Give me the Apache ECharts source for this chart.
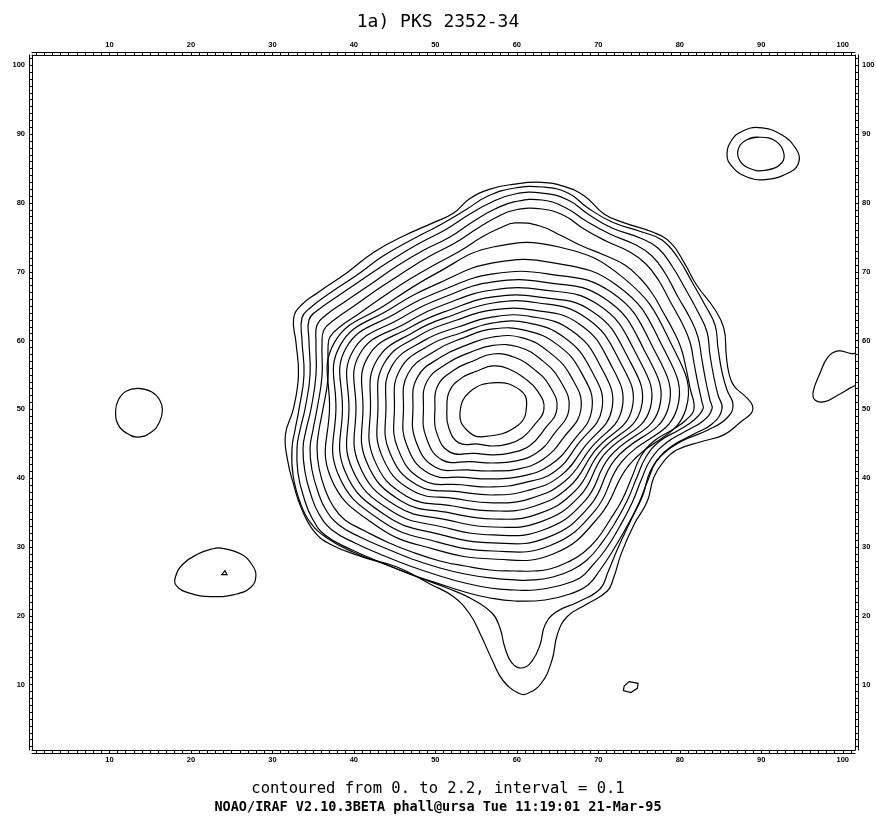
<!DOCTYPE html>
<html>
<head>
<meta charset="utf-8">
<script src="https://cdn.jsdelivr.net/npm/echarts@6/dist/echarts.min.js"></script>
<style>
  html, body { margin: 0; padding: 0; background: #fff; }
  #chart { width: 876px; height: 818px; }
</style>
</head>
<body>
<div id="chart"></div>
<script>
// contour levels of the main source, 0.1 (outermost) to 2.2 (innermost), image pixel coords
const lvl01 = [[59.5,82.7],[63.0,83.0],[65.8,82.4],[68.3,81.0],[70.7,78.4],[73.2,77.1],[76.8,75.7],[78.9,74.2],[80.5,71.4],[82.1,68.0],[84.2,64.7],[85.4,61.8],[85.7,57.9],[86.0,55.4],[86.6,53.5],[88.2,51.7],[88.9,50.6],[88.8,49.5],[87.5,48.2],[85.4,46.3],[82.6,45.3],[79.6,44.1],[78.0,42.4],[76.8,40.1],[76.0,36.6],[74.4,33.3],[72.8,29.0],[71.9,25.6],[71.1,23.6],[68.6,21.7],[66.2,19.9],[65.0,17.4],[64.3,13.5],[63.0,10.2],[61.3,8.7],[60.3,8.7],[58.3,10.6],[57.0,13.5],[55.5,17.4],[54.2,20.3],[52.2,22.8],[49.4,24.6],[45.3,27.1],[41.2,28.5],[37.1,30.4],[35.1,32.3],[33.5,35.8],[32.6,39.1],[31.9,42.4],[31.6,46.3],[32.6,50.2],[33.2,55.0],[32.9,59.7],[32.6,63.2],[33.5,65.1],[35.6,67.0],[39.2,69.9],[42.4,72.8],[46.1,75.2],[49.7,77.1],[52.2,78.5],[54.2,80.6],[56.7,82.0]];
const lvl02 = [[59.77,82.17],[63.09,82.32],[66.28,81.45],[68.73,79.27],[71.68,77.23],[75.36,75.78],[77.81,74.61],[79.78,72.0],[81.5,68.51],[83.09,65.17],[84.32,62.26],[84.69,58.92],[85.18,55.43],[85.79,52.82],[86.53,50.64],[85.79,48.75],[83.46,47.0],[80.27,45.41],[77.94,43.52],[76.34,40.9],[75.48,37.56],[74.13,34.22],[72.41,29.86],[71.19,26.37],[70.21,23.9],[67.51,22.01],[64.81,20.55],[63.46,18.67],[62.84,15.76],[61.86,13.43],[60.63,12.42],[59.41,13.14],[58.55,15.32],[57.93,18.23],[56.95,20.41],[54.25,22.59],[51.43,24.04],[48.12,25.5],[44.07,27.38],[39.89,29.27],[36.7,31.31],[34.62,33.63],[33.39,36.54],[32.53,40.46],[32.41,44.39],[32.78,47.0],[33.27,50.05],[33.88,55.0],[33.63,60.08],[33.63,63.28],[34.62,64.73],[37.07,66.91],[40.38,69.53],[43.58,72.29],[47.26,74.76],[50.57,76.8],[53.88,79.12],[56.46,81.01]];
const lvl03 = [[59.77,81.3],[63.09,81.44],[66.28,80.43],[68.73,78.39],[71.68,76.36],[75.11,74.91],[77.32,73.45],[79.04,70.84],[80.76,67.35],[82.23,64.15],[83.34,61.25],[83.7,57.9],[84.2,54.56],[84.69,52.09],[85.18,50.06],[83.95,47.87],[81.74,46.42],[79.04,44.68],[77.08,42.35],[76.1,39.74],[74.87,36.1],[73.4,32.76],[71.68,29.27],[70.21,26.66],[68.73,24.48],[66.52,23.17],[63.46,22.3],[59.77,22.15],[56.7,22.59],[53.64,23.46],[50.56,24.62],[46.88,26.08],[43.21,27.82],[39.53,29.71],[36.46,31.74],[34.86,34.22],[33.88,37.12],[33.14,40.75],[33.02,44.39],[33.39,47.0],[34.0,50.05],[34.62,55.0],[34.49,60.08],[34.49,62.99],[35.6,64.44],[38.05,66.48],[41.12,68.95],[44.43,71.56],[47.87,74.03],[51.18,76.07],[54.24,78.39],[56.95,80.14]];
const lvl04 = [[59.77,80.18],[63.09,80.43],[66.03,79.27],[68.49,77.38],[71.42,75.49],[74.62,73.89],[76.59,72.29],[78.18,69.82],[79.78,66.33],[81.25,63.28],[82.23,60.52],[82.72,57.18],[83.21,53.98],[83.7,51.36],[83.95,50.06],[82.85,48.31],[80.76,46.86],[78.31,45.11],[76.46,42.79],[75.36,40.03],[74.13,36.39],[72.66,33.05],[70.94,29.71],[69.22,27.24],[67.74,25.5],[65.05,24.33],[62.23,23.75],[59.77,23.75],[56.7,24.04],[53.63,24.77],[50.56,25.79],[46.88,27.24],[43.45,28.84],[40.14,30.58],[37.32,32.47],[35.72,34.8],[34.74,37.56],[34.0,40.9],[33.76,44.39],[34.13,47.0],[34.74,50.06],[35.35,55.0],[35.35,59.79],[35.48,62.26],[36.58,63.72],[39.03,65.75],[42.1,68.22],[45.29,70.84],[48.61,73.16],[51.79,75.05],[54.74,77.38],[57.31,79.12]];
const lvl05 = [[59.77,78.97],[63.09,79.12],[65.9,78.1],[68.24,76.21],[70.94,74.47],[73.88,72.87],[75.85,71.13],[77.45,68.66],[78.92,65.46],[80.27,62.55],[81.25,59.79],[81.74,56.74],[82.23,53.69],[82.72,51.07],[82.85,50.06],[81.74,48.46],[79.9,47.0],[77.56,45.41],[75.85,43.08],[74.75,40.17],[73.52,36.68],[72.04,33.49],[70.33,30.44],[68.61,28.11],[66.77,26.66],[64.44,25.64],[61.98,25.21],[59.77,25.21],[56.7,25.5],[53.63,26.08],[50.56,26.95],[47.13,28.26],[43.81,29.86],[40.75,31.45],[38.17,33.2],[36.58,35.38],[35.6,37.99],[34.86,41.19],[34.62,44.39],[34.98,47.0],[35.48,50.06],[36.09,54.85],[36.09,59.5],[36.33,61.54],[37.56,62.99],[40.01,65.02],[42.96,67.49],[46.15,69.96],[49.33,72.29],[52.4,74.18],[55.24,76.36],[57.57,77.96]];
const lvl06 = [[59.77,77.09],[62.83,76.65],[65.54,75.2],[68.0,73.74],[70.7,72.43],[73.26,70.98],[75.1,69.09],[76.59,66.91],[77.94,64.15],[79.16,61.54],[80.15,58.92],[80.76,56.01],[81.25,53.11],[81.74,50.06],[80.76,48.46],[79.04,47.0],[76.83,45.41],[75.24,43.22],[74.13,40.17],[72.91,36.83],[71.42,33.93],[69.84,31.16],[68.12,29.13],[66.28,27.82],[64.06,26.8],[61.98,26.51],[59.77,26.51],[56.7,26.66],[53.63,27.24],[50.56,27.97],[47.13,29.27],[44.07,30.73],[41.36,32.33],[38.91,33.93],[37.44,35.96],[36.45,38.43],[35.72,41.48],[35.48,44.39],[35.72,47.0],[36.21,50.06],[36.83,54.56],[36.83,58.92],[37.07,60.52],[38.42,62.12],[40.75,64.01],[43.7,66.48],[46.88,68.95],[50.08,71.13],[53.02,73.02],[55.72,75.05],[57.92,76.36]];
const lvl07 = [[80.75,50.06],[78.5,60.58],[73.12,69.07],[65.3,73.56],[57.07,73.6],[50.16,69.8],[44.14,65.37],[37.57,59.63],[37.01,50.06],[37.11,40.26],[42.75,33.1],[49.93,29.65],[57.07,28.26],[64.45,28.98],[70.17,34.54],[73.74,41.88]];
const lvl08 = [[79.65,50.06],[77.48,60.08],[72.26,68.04],[64.5,71.28],[57.07,71.28],[50.63,68.46],[44.66,64.75],[38.3,59.27],[37.8,50.06],[38.02,40.71],[43.36,33.82],[50.3,30.72],[57.07,29.42],[64.03,30.19],[69.57,35.26],[72.83,42.32]];
const lvl09 = [[78.55,50.06],[76.46,59.58],[71.48,67.12],[63.93,69.66],[57.07,69.68],[51.01,67.38],[45.27,64.04],[39.04,58.91],[38.6,50.06],[38.87,41.13],[43.97,34.54],[50.68,31.8],[57.07,30.59],[63.63,31.33],[68.96,35.98],[72.04,42.71]];
const lvl10 = [[77.44,50.06],[75.44,59.08],[70.69,66.19],[63.51,68.46],[57.07,68.52],[51.34,66.44],[45.88,63.32],[39.89,58.49],[39.4,50.06],[39.72,41.54],[44.57,35.26],[51.05,32.87],[57.07,31.75],[63.23,32.47],[68.35,36.7],[71.36,43.05]];
const lvl11 = [[76.34,50.06],[74.42,58.58],[69.91,65.27],[63.13,67.38],[57.07,67.35],[51.66,65.5],[46.48,62.6],[40.74,58.08],[40.26,50.06],[40.63,41.99],[45.18,35.98],[51.43,33.95],[57.07,32.91],[62.83,33.61],[67.74,37.42],[70.68,43.38]];
const lvl12 = [[75.23,50.06],[73.4,58.08],[69.13,64.34],[62.76,66.31],[57.07,66.34],[51.99,64.56],[47.0,61.98],[41.71,57.6],[41.12,50.06],[41.54,42.43],[45.79,36.7],[51.78,34.95],[57.07,34.07],[62.43,34.75],[67.14,38.14],[70.11,43.66]];
const lvl13 = [[74.13,50.06],[72.38,57.57],[68.35,63.42],[62.48,65.5],[57.07,65.46],[52.28,63.76],[47.52,61.36],[42.78,57.07],[42.04,50.06],[42.44,42.88],[46.4,37.42],[52.13,35.96],[57.07,35.24],[62.03,35.89],[66.53,38.86],[69.54,43.94]];
const lvl14 = [[72.9,50.06],[71.3,57.05],[67.57,62.49],[62.1,64.43],[57.07,64.45],[52.56,62.95],[48.04,60.75],[43.69,56.63],[42.96,50.06],[43.41,43.35],[47.09,38.24],[52.51,37.03],[57.07,36.4],[61.63,37.03],[65.92,39.58],[68.98,44.22]];
const lvl15 = [[71.67,50.06],[70.17,56.49],[66.7,61.47],[61.77,63.49],[57.07,63.43],[52.89,62.01],[48.65,60.03],[44.6,56.18],[43.94,50.06],[44.37,43.83],[47.74,39.01],[52.86,38.04],[57.07,37.56],[61.23,38.18],[65.31,40.3],[68.3,44.55]];
const lvl16 = [[70.45,50.06],[69.03,55.93],[65.83,60.44],[61.44,62.55],[57.07,62.56],[53.19,61.14],[49.26,59.31],[45.62,55.68],[44.98,50.06],[45.39,44.33],[48.39,39.78],[53.22,39.05],[57.07,38.73],[60.83,39.32],[64.71,41.02],[67.5,44.94]];
const lvl17 = [[69.22,50.06],[67.9,55.38],[64.97,59.41],[61.07,61.47],[57.07,61.69],[53.45,60.4],[49.95,58.49],[46.64,55.18],[46.09,50.06],[46.47,44.86],[49.17,40.71],[53.59,40.12],[57.07,39.89],[60.5,40.26],[64.01,41.84],[66.82,45.27]];
const lvl18 = [[67.87,50.06],[66.65,54.76],[64.01,58.28],[60.69,60.4],[57.07,60.52],[53.83,59.33],[50.69,57.61],[47.77,54.62],[47.25,50.06],[47.6,45.41],[49.95,41.63],[53.97,41.2],[57.07,41.05],[60.13,41.33],[63.23,42.76],[65.69,45.83]];
const lvl19 = [[66.4,50.06],[65.35,54.12],[63.06,57.15],[60.22,59.06],[57.07,59.29],[54.2,58.25],[51.47,56.69],[48.96,54.04],[48.54,50.06],[48.85,46.02],[50.82,42.66],[54.39,42.41],[57.07,42.21],[59.73,42.47],[62.45,43.69],[64.55,46.39]];
const lvl20 = [[64.92,50.06],[63.99,53.46],[62.02,55.92],[59.7,57.58],[57.07,58.05],[54.63,57.04],[52.3,55.71],[50.27,53.4],[49.95,50.06],[50.15,46.66],[51.78,43.79],[54.81,43.61],[57.07,43.38],[59.3,43.68],[61.58,44.72],[63.31,47.0]];
const lvl21 = [[63.33,50.06],[62.51,52.73],[60.89,54.58],[59.09,55.83],[57.07,56.31],[55.14,55.57],[53.25,54.58],[51.74,52.68],[51.42,50.06],[51.63,47.39],[52.9,45.13],[55.28,44.96],[57.07,44.68],[58.86,44.96],[60.63,45.85],[62.06,47.61]];
const lvl22 = [[57.53,53.88],[60.39,52.82],[61.21,50.88],[60.18,47.73],[55.88,46.03],[53.85,47.0],[53.02,49.43],[54.24,52.57]];

// small isolated contours
const westBlob = [[13.53,53.06],[15.16,52.57],[16.17,51.37],[16.5,49.92],[16.17,48.23],[15.16,46.7],[13.53,45.98],[12.1,46.55],[11.09,47.75],[10.76,49.67],[11.09,51.37],[12.1,52.67]];
const swBlob = [[23.7,29.84],[26.15,28.97],[27.58,27.28],[27.98,25.83],[27.37,24.16],[25.33,23.09],[22.49,22.8],[19.83,23.29],[18.21,24.39],[18.09,25.6],[19.03,27.53],[20.86,28.97],[22.49,29.69]];
const swPeak = [[24.19,26.56],[24.44,25.98],[23.79,25.98]];
const neOuter = [[89.66,90.96],[92.5,89.9],[94.33,87.73],[94.63,86.04],[93.72,84.6],[90.47,83.4],[88.03,83.88],[86.4,85.32],[85.79,87.01],[86.4,89.18],[87.62,90.38]];
const neInner = [[89.86,89.55],[91.69,89.03],[92.71,87.49],[92.5,85.8],[90.47,84.74],[88.44,85.07],[87.3,86.28],[87.21,87.96],[88.23,89.18]];
const eastEdge = [[101.8,58.2],[101.05,58.11],[99.43,58.49],[98.2,57.62],[97.19,55.22],[96.37,52.57],[96.58,51.37],[97.8,51.12],[99.43,52.09],[101.05,53.2],[101.8,53.6]];
const southSpot = [[73.78,10.43],[74.88,10.19],[74.79,9.46],[73.99,8.84],[73.08,9.13],[73.17,9.8]];

const mainLevels = [lvl01, lvl02, lvl03, lvl04, lvl05, lvl06, lvl07, lvl08, lvl09, lvl10, lvl11,
    lvl12, lvl13, lvl14, lvl15, lvl16, lvl17, lvl18, lvl19, lvl20, lvl21, lvl22];
const islands = [westBlob, swBlob, neOuter, neInner];

const tickValues = [];
for (let i = 1; i <= 101; i++) tickValues.push(i);
const labelValues = [10, 20, 30, 40, 50, 60, 70, 80, 90, 100];

const title = '1a) PKS 2352-34';
const note1 = 'contoured from 0. to 2.2, interval = 0.1';
const note2 = 'NOAO/IRAF V2.10.3BETA phall@ursa Tue 11:19:01 21-Mar-95';

const mychart = echarts.init(document.getElementById('chart'));

// one custom series per contour, drawn as a single (smoothed) path through all its points
function contourSeries(points, closed, smooth) {
    return {
        type: 'custom',
        coordinateSystem: 'cartesian2d',
        data: points,
        clip: true,
        silent: true,
        renderItem: function (params, api) {
            if (params.dataIndexInside !== 0) return null;
            const pts = [];
            for (let i = 0; i < params.dataInsideLength; i++) {
                pts.push(api.coord([api.value(0, i), api.value(1, i)]));
            }
            return {
                type: closed ? 'polygon' : 'polyline',
                shape: { points: pts, smooth: smooth },
                style: { fill: null, stroke: '#000', lineWidth: 1.2 }
            };
        }
    };
}

const lab = { color: '#000', fontSize: 7.5, fontFamily: 'Liberation Sans', fontWeight: 'bold' };
function mainAxis(pos) {
    const horiz = (pos === 'top' || pos === 'bottom');
    return {
        type: 'value', position: pos, min: 0.5, max: 101.5,
        axisLine: { show: true, onZero: false, lineStyle: { color: '#000', width: 1 } },
        axisTick: { show: true, inside: false, length: 3, customValues: tickValues, lineStyle: { color: '#000', width: 1 } },
        axisLabel: { show: true, customValues: labelValues, margin: horiz ? 6 : 7, ...lab },
        splitLine: { show: false }
    };
}
function outerAxis(pos) {
    return {
        type: 'value', position: pos, min: 0.5, max: 101.5, offset: 3,
        axisLine: { show: true, onZero: false, lineStyle: { color: '#000', width: 1 } },
        axisTick: { show: false }, axisLabel: { show: false }, splitLine: { show: false }
    };
}

const series = [];
mainLevels.forEach((c, i) => series.push(contourSeries(c, true, i < 6 ? 0.45 : 0.45)));
islands.forEach(c => series.push(contourSeries(c, true, 0.45)));
series.push(contourSeries(eastEdge, false, 0.45));
series.push(contourSeries(swPeak, true, 0));
series.push(contourSeries(southSpot, true, 0));

mychart.setOption({
    animation: false,
    backgroundColor: '#fff',
    title: [
        { text: title, left: 'center', top: 8, textStyle: { fontFamily: 'DejaVu Sans Mono', fontSize: 18, fontWeight: 'normal', color: '#000' } },
        { text: note1, left: 'center', top: 776, textStyle: { fontFamily: 'DejaVu Sans Mono', fontSize: 15.5, fontWeight: 'normal', color: '#000' } },
        { text: note2, left: 'center', top: 795, textStyle: { fontFamily: 'DejaVu Sans Mono', fontSize: 13.5, fontWeight: 'bold', color: '#000' } }
    ],
    grid: { left: 32, right: 21, top: 55, bottom: 68, outerBoundsMode: 'none' },
    xAxis: [mainAxis('bottom'), mainAxis('top'), outerAxis('bottom'), outerAxis('top')],
    yAxis: [mainAxis('left'), mainAxis('right'), outerAxis('left'), outerAxis('right')],
    series: series
});
</script>
</body>
</html>
